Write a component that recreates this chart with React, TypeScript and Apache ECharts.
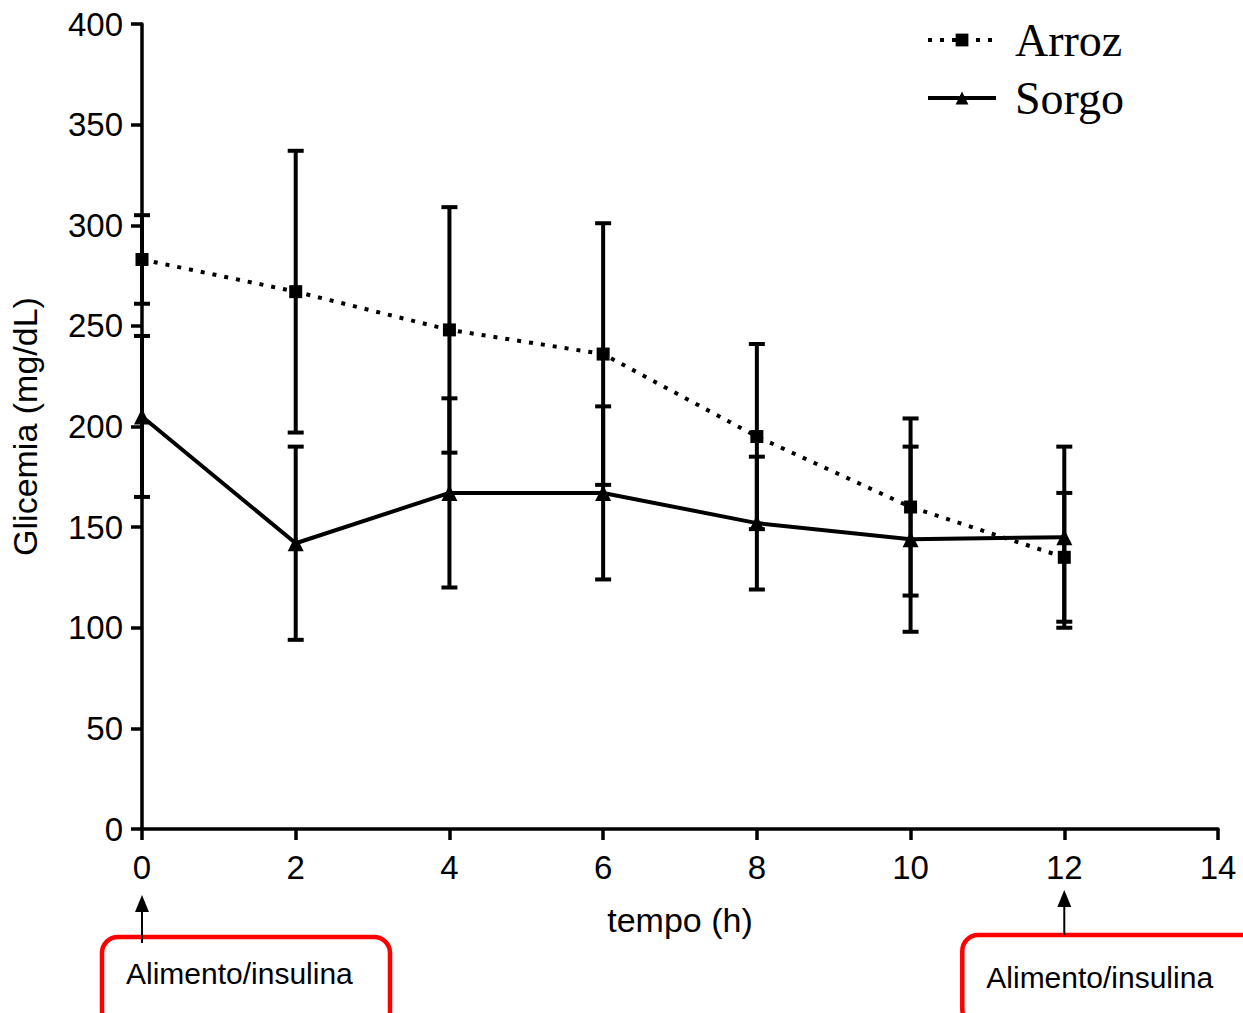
import React, { useEffect, useRef } from "react";
import * as echarts from "echarts";

const times = [0, 2, 4, 6, 8, 10, 12];
const arrozMean = [283, 267, 248, 236, 195, 160, 135];
const arrozErr = [22, 70, 61, 65, 46, 44, 32];
const sorgoMean = [205, 142, 167, 167, 152, 144, 145];
const sorgoErr = [40, 48, 47, 43, 33, 46, 45];
const annotationTimes = [0, 12];
const annotationLabel = "Alimento/insulina";

const SANS = "'Liberation Sans', Arial, sans-serif";
const SERIF = "'Liberation Serif', 'Times New Roman', serif";

function errorSeries(name: string, means: number[], errs: number[]) {
  return {
    type: "custom",
    name: name + "-err",
    clip: false,
    z: 1,
    data: times.map((t, i) => [t, means[i] - errs[i], means[i] + errs[i]]),
    renderItem: (params: any, api: any) => {
      const x = api.value(0);
      const lo = api.coord([x, api.value(1)]);
      const hi = api.coord([x, api.value(2)]);
      const hw = 8;
      const style = { stroke: "#000", lineWidth: 4 };
      return {
        type: "group",
        children: [
          { type: "line", shape: { x1: lo[0], y1: lo[1], x2: hi[0], y2: hi[1] }, style },
          { type: "line", shape: { x1: lo[0] - hw, y1: lo[1], x2: lo[0] + hw, y2: lo[1] }, style },
          { type: "line", shape: { x1: hi[0] - hw, y1: hi[1], x2: hi[0] + hw, y2: hi[1] }, style },
        ],
      };
    },
  };
}

export default function App() {
  const ref = useRef<HTMLDivElement>(null);
  useEffect(() => {
    document.body.style.margin = "0";
    const chart = echarts.init(ref.current!, null, { renderer: "svg" });
    chart.setOption({
      animation: false,
      backgroundColor: "#fff",
      grid: { left: 142, right: 25, top: 24, bottom: 184, containLabel: false },
      legend: {
        orient: "vertical",
        left: 921,
        top: 10,
        itemWidth: 68,
        itemHeight: 16,
        itemGap: 8,
        data: ["Arroz", "Sorgo"],
        lineStyle: { width: 4 },
        textStyle: { fontFamily: SERIF, fontSize: 46, color: "#000", padding: [0, 0, 0, 14], lineHeight: 50 },
      },
      xAxis: {
        type: "value",
        min: 0,
        max: 14,
        interval: 2,
        name: "tempo (h)",
        nameLocation: "middle",
        nameGap: 74,
        nameTextStyle: { fontFamily: SANS, fontSize: 34, color: "#000" },
        axisLine: { lineStyle: { color: "#000", width: 3.5 } },
        axisTick: { show: true, inside: false, length: 11, lineStyle: { color: "#000", width: 3.5 } },
        axisLabel: { fontFamily: SANS, fontSize: 33, color: "#000", margin: 22 },
        splitLine: { show: false },
      },
      yAxis: {
        type: "value",
        min: 0,
        max: 400,
        interval: 50,
        name: "Glicemia (mg/dL)",
        nameLocation: "middle",
        nameGap: 100,
        nameTextStyle: { fontFamily: SANS, fontSize: 34, color: "#000" },
        axisLine: { show: true, lineStyle: { color: "#000", width: 3.5 } },
        axisTick: { show: true, inside: false, length: 11, lineStyle: { color: "#000", width: 3.5 } },
        axisLabel: { fontFamily: SANS, fontSize: 33, color: "#000", margin: 19 },
        splitLine: { show: false },
      },
      series: [
        errorSeries("Arroz", arrozMean, arrozErr),
        errorSeries("Sorgo", sorgoMean, sorgoErr),
        {
          name: "Arroz",
          type: "line",
          z: 3,
          data: times.map((t, i) => [t, arrozMean[i]]),
          symbol: "rect",
          symbolSize: 13,
          itemStyle: { color: "#000" },
          lineStyle: { color: "#000", width: 4, type: [4, 8] },
        },
        {
          name: "Sorgo",
          type: "line",
          z: 3,
          data: times.map((t, i) => [t, sorgoMean[i]]),
          symbol: "triangle",
          symbolSize: 16,
          itemStyle: { color: "#000" },
          lineStyle: { color: "#000", width: 4, type: "solid" },
        },
      ],
    });

    const yAxisBottom = chart.convertToPixel({ gridIndex: 0 }, [0, 0])[1];
    const graphics: any[] = [];
    annotationTimes.forEach((t, i) => {
      const px = chart.convertToPixel({ gridIndex: 0 }, [t, 0])[0];
      const boxLeft = i === 0 ? px - 40 : px - 102;
      const boxTop = yAxisBottom + (i === 0 ? 108 : 106);
      const arrowTop = yAxisBottom + (i === 0 ? 66 : 61);
      graphics.push(
        {
          type: "rect",
          shape: { x: boxLeft, y: boxTop, width: i === 0 ? 288 : 300, height: 90, r: 16 },
          style: { fill: "#fff", stroke: "#ff0000", lineWidth: 4.5 },
          z: 10,
        },
        {
          type: "line",
          shape: { x1: px, y1: boxTop + (i === 0 ? 6 : 0), x2: px, y2: arrowTop + 14 },
          style: { stroke: "#000", lineWidth: 2 },
          z: 11,
        },
        {
          type: "polygon",
          shape: { points: [[px, arrowTop], [px - 7, arrowTop + 17], [px + 7, arrowTop + 17]] },
          style: { fill: "#000" },
          z: 11,
        },
        {
          type: "text",
          x: boxLeft + 24,
          y: boxTop + (i === 0 ? 36 : 42),
          style: {
            text: annotationLabel,
            fontFamily: SANS,
            fontSize: 30,
            fill: "#000",
            verticalAlign: "middle",
          },
          z: 12,
        }
      );
    });
    chart.setOption({ graphic: graphics });

    return () => chart.dispose();
  }, []);
  return <div ref={ref} style={{ width: 1243, height: 1013 }} />;
}
